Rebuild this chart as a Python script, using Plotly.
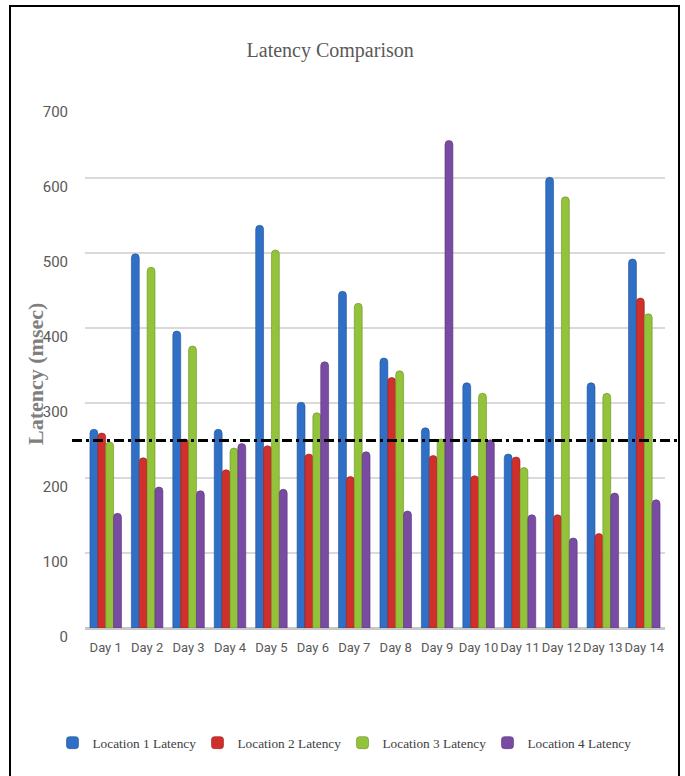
import plotly.graph_objects as go

# Daily latency per location (msec)
days = [f"Day {i}" for i in range(1, 15)]
loc1 = [265, 499, 396, 265, 537, 301, 449, 360, 267, 327, 232, 601, 327, 492]
loc2 = [260, 227, 252, 211, 243, 232, 202, 334, 230, 203, 228, 151, 126, 440]
loc3 = [248, 481, 376, 240, 504, 287, 433, 343, 252, 313, 214, 575, 313, 419]
loc4 = [153, 188, 183, 246, 185, 355, 235, 156, 650, 251, 151, 120, 180, 171]
series_names = ["Location 1 Latency", "Location 2 Latency",
                "Location 3 Latency", "Location 4 Latency"]
series_colors = ["#2f70c6", "#cf302c", "#93c33a", "#7a4ba2"]
edge_colors = ["#1f4f94", "#9c1f1c", "#6a9127", "#553278"]
threshold = 250
y_ticks = [0, 100, 200, 300, 400, 500, 600, 700]

W, H = 685, 776
ML, MR, MT, MB = 85, 20, 103, 148
PW, PH = W - ML - MR, H - MT - MB


def px_x(x):
    return (x - ML) / PW


def px_y(y):
    return (H - MB - y) / PH


fig = go.Figure()
for name, vals, col, edge in zip(series_names, [loc1, loc2, loc3, loc4],
                                 series_colors, edge_colors):
    fig.add_trace(go.Bar(
        x=days, y=vals, name=name,
        marker=dict(color=col, line=dict(color=edge, width=0.6)),
    ))

sans = "Roboto, Liberation Sans, Arial, sans-serif"
serif = "Liberation Serif, Times New Roman, serif"

fig.update_layout(
    width=W, height=H,
    margin=dict(l=ML, r=MR, t=MT, b=MB),
    paper_bgcolor="white", plot_bgcolor="white",
    barmode="group", bargap=0.24, bargroupgap=0.0,
    barcornerradius=4,
    title=dict(text="Latency Comparison", x=0.482, xref="container",
               xanchor="center", y=1 - 50 / H, yanchor="middle",
               font=dict(family=serif, size=20, color="#595959")),
    xaxis=dict(
        showgrid=False, showline=False, ticks="", tickangle=0,
        tickfont=dict(family=sans, size=13, color="#595959"),
        ticklabelstandoff=10,
    ),
    yaxis=dict(
        range=[0, 700], tickvals=y_ticks,
        showgrid=True, gridcolor="#d9d9d9", gridwidth=2,
        zeroline=True, zerolinecolor="#c8c8c8", zerolinewidth=3,
        showline=False, ticks="",
        tickfont=dict(family=sans, size=15, color="#595959"),
        ticklabelshift=9, ticklabelstandoff=16,
    ),
    legend=dict(
        orientation="h", xref="container", x=0.5, xanchor="center",
        yref="container", y=1 - 743 / H, yanchor="middle",
        font=dict(family=serif, size=13.3, color="#404040"),
        entrywidth=100, entrywidthmode="pixels",
        itemclick=False, itemdoubleclick=False,
    ),
    showlegend=True,
)

# Y-axis title
fig.add_annotation(
    text="<b>Latency (msec)</b>", xref="paper", yref="paper",
    x=px_x(35), y=px_y(374), textangle=-90, showarrow=False,
    xanchor="center", yanchor="middle",
    font=dict(family=serif, size=22, color="#7f7f7f"),
)

# Latency threshold line
fig.add_shape(
    type="line", xref="paper", yref="y",
    x0=px_x(72), x1=px_x(681), y0=threshold, y1=threshold,
    line=dict(color="black", width=3, dash="10px,4px,3px,4px"),
)

# Outer frame
fig.add_shape(
    type="rect", xref="paper", yref="paper",
    x0=px_x(10), x1=px_x(679), y0=px_y(790), y1=px_y(6),
    line=dict(color="black", width=2), fillcolor="rgba(0,0,0,0)",
    layer="above",
)

fig.write_html("out.html")
